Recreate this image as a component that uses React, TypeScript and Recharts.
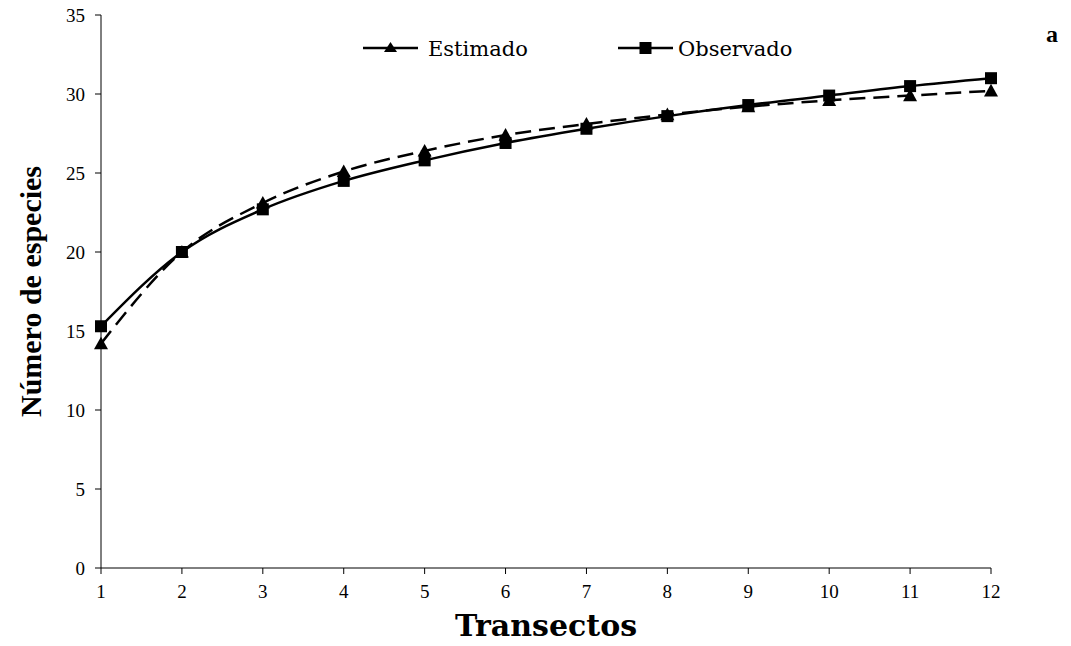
import React from "react";
import { LineChart, Line, XAxis, YAxis, Customized } from "recharts";

const transectos = [1, 2, 3, 4, 5, 6, 7, 8, 9, 10, 11, 12];
const estimado = [14.2, 20.0, 23.1, 25.1, 26.4, 27.4, 28.1, 28.7, 29.2, 29.6, 29.9, 30.2];
const observado = [15.3, 20.0, 22.7, 24.5, 25.8, 26.9, 27.8, 28.6, 29.3, 29.9, 30.5, 31.0];
const yTicks = [0, 5, 10, 15, 20, 25, 30, 35];
const seriesNames = ["Estimado", "Observado"];

const data = transectos.map((t, i) => ({ t, est: estimado[i], obs: observado[i] }));

const FONT = "'Liberation Serif', 'DejaVu Serif', serif";
const WIDE = "'DejaVu Serif', 'Liberation Serif', serif";

const Triangle = (props: any) => {
  const { cx, cy } = props;
  if (cx == null || cy == null) return null;
  const s = 7;
  return <path d={`M${cx},${cy - s} L${cx + s},${cy + s * 0.8} L${cx - s},${cy + s * 0.8} Z`} fill="#000" />;
};
const Square = (props: any) => {
  const { cx, cy } = props;
  if (cx == null || cy == null) return null;
  const s = 6;
  return <rect x={cx - s} y={cy - s} width={2 * s} height={2 * s} fill="#000" />;
};

const Overlay = () => (
  <g>
    <line x1={363} y1={48} x2={418} y2={48} stroke="#000" strokeWidth={2.5} />
    <path d="M390.5,42 L397,52 L384,52 Z" fill="#000" />
    <text x={428} y={56} fontFamily={WIDE} fontSize={21} fill="#000">{seriesNames[0]}</text>
    <line x1={618} y1={48} x2={673} y2={48} stroke="#000" strokeWidth={2.5} />
    <rect x={639.5} y={42} width={12} height={12} fill="#000" />
    <text x={678} y={56} fontFamily={WIDE} fontSize={21} fill="#000">{seriesNames[1]}</text>
    <text x={1046} y={42} fontFamily={FONT} fontSize={24} fontWeight="bold" fill="#000">a</text>
  </g>
);

export default function App() {
  return (
    <div style={{ position: "absolute", left: 0, top: 0 }}>
      <LineChart
        width={1071}
        height={646}
        data={data}
        margin={{ top: 15, right: 80, bottom: 48, left: 0 }}
      >
        <XAxis
          dataKey="t"
          type="number"
          domain={[1, 12]}
          ticks={transectos}
          height={30}
          stroke="#000"
          tickSize={6}
          tick={{ fill: "#000", fontFamily: FONT, fontSize: 19, dy: 9 }}
          label={{ value: "Transectos", position: "insideBottom", offset: -38, fill: "#000", fontFamily: WIDE, fontSize: 30, fontWeight: "bold" }}
        />
        <YAxis
          type="number"
          domain={[0, 35]}
          ticks={yTicks}
          width={101}
          stroke="#000"
          tickSize={6}
          tick={{ fill: "#000", fontFamily: FONT, fontSize: 19, dx: -8 }}
          label={{ value: "Número de especies", angle: -90, position: "insideLeft", offset: 30, fill: "#000", fontFamily: FONT, fontSize: 30, fontWeight: "bold", style: { textAnchor: "middle" } }}
        />
        <Line
          type="monotone"
          dataKey="est"
          stroke="#000"
          strokeWidth={2.5}
          strokeDasharray="16 8"
          dot={<Triangle />}
          isAnimationActive={false}
        />
        <Line
          type="monotone"
          dataKey="obs"
          stroke="#000"
          strokeWidth={2.5}
          dot={<Square />}
          isAnimationActive={false}
        />
        <Customized component={Overlay} />
      </LineChart>
    </div>
  );
}
